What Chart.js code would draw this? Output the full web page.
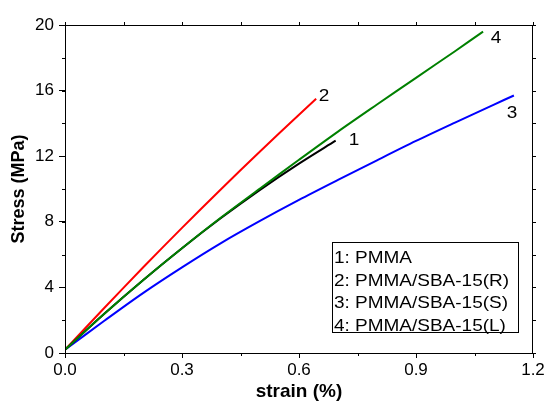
<!DOCTYPE html>
<html>
<head>
<meta charset="utf-8">
<script src="https://cdn.jsdelivr.net/npm/chart.js@4/dist/chart.umd.min.js"></script>
<style>
  html, body { margin: 0; padding: 0; background: #fff; }
  #wrap { width: 549px; height: 401px; position: relative; }
</style>
</head>
<body>
<div id="wrap"><canvas id="stressChart"></canvas></div>
<script>
// strain (%) / stress (MPa) pairs
const pmma      = [[0,0.2],[0.1,2.38],[0.2,4.44],[0.3,6.39],[0.4,8.23],[0.5,9.95],[0.6,11.55],[0.694,12.95]];
const pmmaSbaR  = [[0,0.2],[0.1,2.73],[0.2,5.21],[0.3,7.63],[0.4,9.99],[0.5,12.29],[0.6,14.53],[0.644,15.5]];
const pmmaSbaS  = [[0,0.2],[0.1,1.95],[0.2,3.65],[0.3,5.22],[0.4,6.7],[0.5,8.05],[0.6,9.33],[0.7,10.55],[0.8,11.75],[0.9,12.93],[1.0,14.05],[1.1,15.15],[1.151,15.7]];
const pmmaSbaL  = [[0,0.2],[0.1,2.38],[0.2,4.44],[0.3,6.39],[0.4,8.26],[0.5,10.03],[0.6,11.78],[0.7,13.5],[0.8,15.15],[0.9,16.78],[1.0,18.4],[1.072,19.6]];

const seriesNames = ['1: PMMA', '2: PMMA/SBA-15(R)', '3: PMMA/SBA-15(S)', '4: PMMA/SBA-15(L)'];
const seriesColors = ['#000000', '#ff0000', '#0000ff', '#008000'];
// curve number tags: [label, strain, stress]
const curveTags = [['1', 0.741, 12.99], ['2', 0.664, 15.67], ['3', 1.146, 14.63], ['4', 1.105, 19.15]];

const xTicks = [0, 0.3, 0.6, 0.9, 1.2];
const yTicks = [0, 4, 8, 12, 16, 20];

const toPts = arr => arr.map(p => ({ x: p[0], y: p[1] }));

// the original figure is slightly stretched sideways
const stretchText = (ctx, text, px, py, sx) => {
    ctx.save();
    ctx.translate(px, py);
    ctx.scale(sx, 1);
    ctx.fillText(text, 0, 0);
    ctx.restore();
};

const frame = {
    id: 'frame',
    afterDraw(chart) {
        const { ctx, chartArea: a, scales: { x, y } } = chart;
        ctx.save();
        ctx.strokeStyle = '#000';
        ctx.lineWidth = 1;
        ctx.strokeRect(a.left + 0.5, a.top + 0.5, a.right - a.left - 1, a.bottom - a.top);
        ctx.beginPath();
        // minor ticks on bottom/left, all ticks mirrored on top/right
        for (let v = 0; v <= 1.2001; v += 0.15) {
            const px = Math.round(x.getPixelForValue(v)) + 0.5;
            ctx.moveTo(px, a.top); ctx.lineTo(px, a.top - 3);
            ctx.moveTo(px, a.bottom); ctx.lineTo(px, a.bottom + 3);
        }
        for (let v = 0; v <= 20; v += 2) {
            const py = Math.round(y.getPixelForValue(v)) + 0.5;
            ctx.moveTo(a.left, py); ctx.lineTo(a.left - 3, py);
            ctx.moveTo(a.right, py); ctx.lineTo(a.right + 3, py);
        }
        ctx.stroke();

        // curve numbers
        ctx.fillStyle = '#000';
        ctx.font = '16.5px "Liberation Sans", Arial, sans-serif';
        ctx.textAlign = 'center';
        ctx.textBaseline = 'middle';
        curveTags.forEach(t => stretchText(ctx, t[0], x.getPixelForValue(t[1]), y.getPixelForValue(t[2]), 1.15));

        // legend box
        const lx = 332, ly = 242, lw = 186, lh = 90;
        ctx.strokeRect(lx + 0.5, ly + 0.5, lw, lh);
        ctx.textAlign = 'left';
        ctx.textBaseline = 'alphabetic';
        seriesNames.forEach((n, i) => stretchText(ctx, n, lx + 2, ly + 21 + i * 22.7, 1.15));
        ctx.restore();
    }
};

Chart.defaults.color = '#000';
Chart.defaults.font.family = '"Liberation Sans", Arial, sans-serif';

new Chart(document.getElementById('stressChart'), {
    type: 'scatter',
    data: {
        datasets: [pmma, pmmaSbaR, pmmaSbaS, pmmaSbaL].map((d, i) => ({
            label: seriesNames[i],
            data: toPts(d),
            showLine: true,
            borderColor: seriesColors[i],
            backgroundColor: seriesColors[i],
            borderWidth: 2,
            pointRadius: 0,
            tension: 0.3,
            order: i === 3 ? -1 : i   // green sits on top of black
        }))
    },
    options: {
        responsive: true,
        maintainAspectRatio: false,
        animation: false,
        layout: { padding: { left: 0, right: 16, top: 25, bottom: 0 } },
        plugins: { legend: { display: false }, tooltip: { enabled: false } },
        scales: {
            x: {
                type: 'linear', min: 0, max: 1.2,
                afterBuildTicks: s => { s.ticks = xTicks.map(v => ({ value: v })); },
                afterFit: s => { s.height = 48; },
                ticks: { font: { size: 17 }, padding: 2, callback: v => v.toFixed(1), maxRotation: 0 },
                grid: { drawOnChartArea: false, drawTicks: true, tickLength: 5, color: '#000' },
                border: { display: true, color: '#000' },
                title: { display: true, text: 'strain (%)', font: { size: 19, weight: 'bold', lineHeight: 1 }, padding: 0 }
            },
            y: {
                type: 'linear', min: 0, max: 20,
                afterBuildTicks: s => { s.ticks = yTicks.map(v => ({ value: v })); },
                afterFit: s => { s.width = 65; },
                ticks: { font: { size: 17 }, padding: 5 },
                grid: { drawOnChartArea: false, drawTicks: true, tickLength: 6, color: '#000' },
                border: { display: true, color: '#000' },
                title: { display: true, text: 'Stress (MPa)', font: { size: 18, weight: 'bold' }, padding: { top: 8, bottom: 0 } }
            }
        }
    },
    plugins: [frame]
});
</script>
</body>
</html>
